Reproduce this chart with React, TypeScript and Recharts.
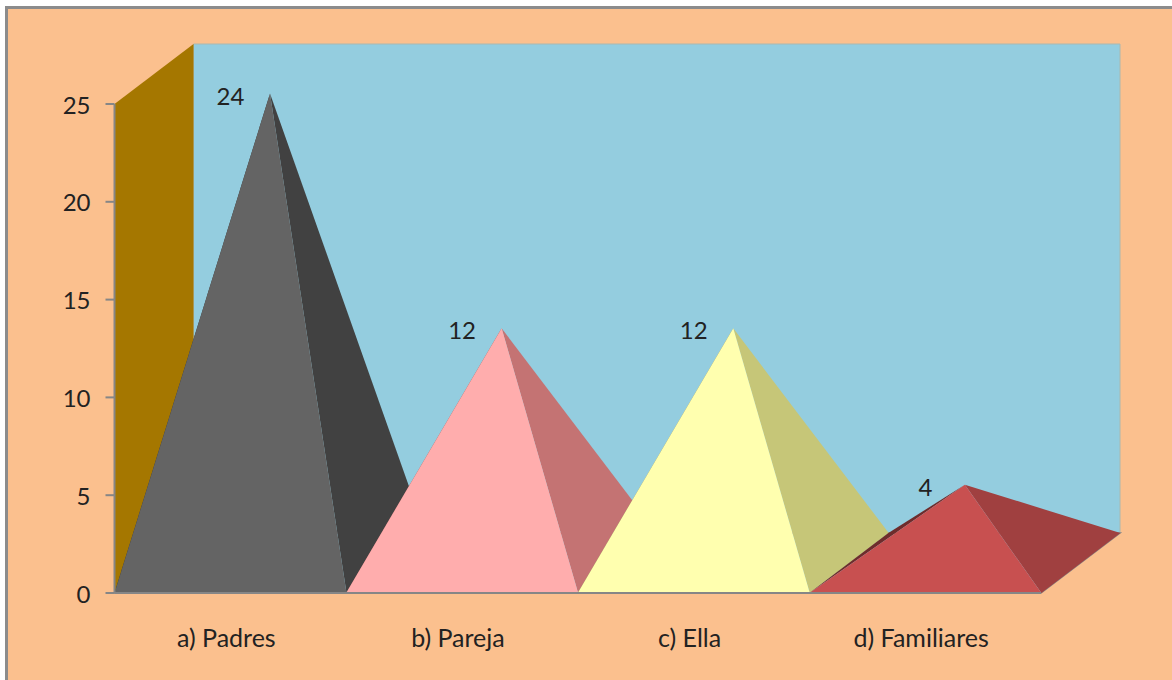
import React from "react";
import { BarChart, Bar, XAxis, YAxis, LabelList } from "recharts";

const categories = ["a) Padres", "b) Pareja", "c) Ella", "d) Familiares"];
const values = [24, 12, 12, 4];
const yTicks = [0, 5, 10, 15, 20, 25];
const frontColors = ["#646464", "#FFADAD", "#FFFFAF", "#C85050"];
const sideColors = ["#414141", "#C47373", "#C6C678", "#A04040"];
const leftColors = ["#303030", "#8A5050", "#8C8C54", "#6E2C2C"];

const rows = categories.map((name, i) => ({ name, value: values[i], index: i }));

const WIDTH = 1172;
const HEIGHT = 680;
const LEFT = 114.5;
const RIGHT = 1041;
const TOP = 104;
const BOTTOM = 593;
// Oblique offset of the back of the 3D box
const DX = 79;
const DY = 60;
const FONT = "Lato, 'Open Sans', sans-serif";
const FONT_SIZE = 24;
const TEXT = "#222222";

const pts = (list: number[][]) => list.map((p) => p.join(",")).join(" ");

function Box3D() {
  return (
    <g>
      <polygon
        points={pts([[LEFT + DX, TOP - DY], [RIGHT + DX, TOP - DY], [RIGHT + DX, BOTTOM - DY], [LEFT + DX, BOTTOM - DY]])}
        fill="#94CDDF"
        stroke="#A9B8B0"
        strokeWidth={1}
      />
      <polygon
        points={pts([[LEFT, BOTTOM], [LEFT + DX, BOTTOM - DY], [LEFT + DX, TOP - DY], [LEFT, TOP]])}
        fill="#A57700"
      />
      <polygon
        points={pts([[LEFT, BOTTOM], [RIGHT, BOTTOM], [RIGHT + DX, BOTTOM - DY], [LEFT + DX, BOTTOM - DY]])}
        fill="#94CDDF"
        stroke="#868686"
        strokeWidth={1.5}
      />
    </g>
  );
}

// Four-sided pyramid whose apex sits over the centre of the band, halfway into the depth
function Pyramid(props: any) {
  const { x, y, width, height, payload } = props;
  const i = payload.index;
  const base = y + height;
  const apex = [x + width / 2 + DX / 2, y - DY / 2];
  const frontLeft = [x, base];
  const frontRight = [x + width, base];
  const backLeft = [x + DX, base - DY];
  const backRight = [x + width + DX, base - DY];
  return (
    <g>
      <polygon points={pts([frontLeft, backLeft, apex])} fill={leftColors[i]} />
      <polygon points={pts([frontRight, backRight, apex])} fill={sideColors[i]} />
      <polygon points={pts([frontLeft, frontRight, apex])} fill={frontColors[i]} />
    </g>
  );
}

function PeakLabel(props: any) {
  const { x, y, width, value } = props;
  return (
    <text
      x={x + width / 2}
      y={y - DY / 2 + 11}
      textAnchor="middle"
      fontFamily={FONT}
      fontSize={FONT_SIZE}
      fill={TEXT}
    >
      {value}
    </text>
  );
}

export default function App() {
  return (
    <div style={{ position: "fixed", left: 0, top: 0, width: WIDTH, height: HEIGHT, overflow: "hidden", background: "#FFFFFF" }}>
      <div
        style={{
          position: "absolute",
          left: 5,
          top: 6,
          width: WIDTH + 20,
          height: HEIGHT + 20,
          boxSizing: "border-box",
          background: "#FBC08E",
          border: "3px solid #8C8C8C",
        }}
      />
      <div style={{ position: "absolute", left: 0, top: 0 }}>
        <BarChart
          width={WIDTH}
          height={HEIGHT}
          data={rows}
          barCategoryGap={0}
          margin={{ top: TOP, right: WIDTH - RIGHT, bottom: 0, left: 0 }}
        >
          <Box3D />
          <XAxis
            dataKey="name"
            height={HEIGHT - BOTTOM}
            axisLine={{ stroke: "#868686", strokeWidth: 2 }}
            tickLine={false}
            tickMargin={30}
            tick={{ fontFamily: FONT, fontSize: 25, fill: TEXT, dx: -4 }}
            interval={0}
          />
          <YAxis
            width={LEFT}
            domain={[0, 25]}
            ticks={yTicks}
            axisLine={{ stroke: "#868686", strokeWidth: 2 }}
            tickLine={{ stroke: "#868686", strokeWidth: 2 }}
            tickSize={9}
            tickMargin={15}
            tick={{ fontFamily: FONT, fontSize: FONT_SIZE, fill: TEXT, dy: 1 }}
          />
          <Bar dataKey="value" shape={Pyramid} isAnimationActive={false}>
            <LabelList dataKey="value" content={PeakLabel} />
          </Bar>
        </BarChart>
      </div>
    </div>
  );
}
